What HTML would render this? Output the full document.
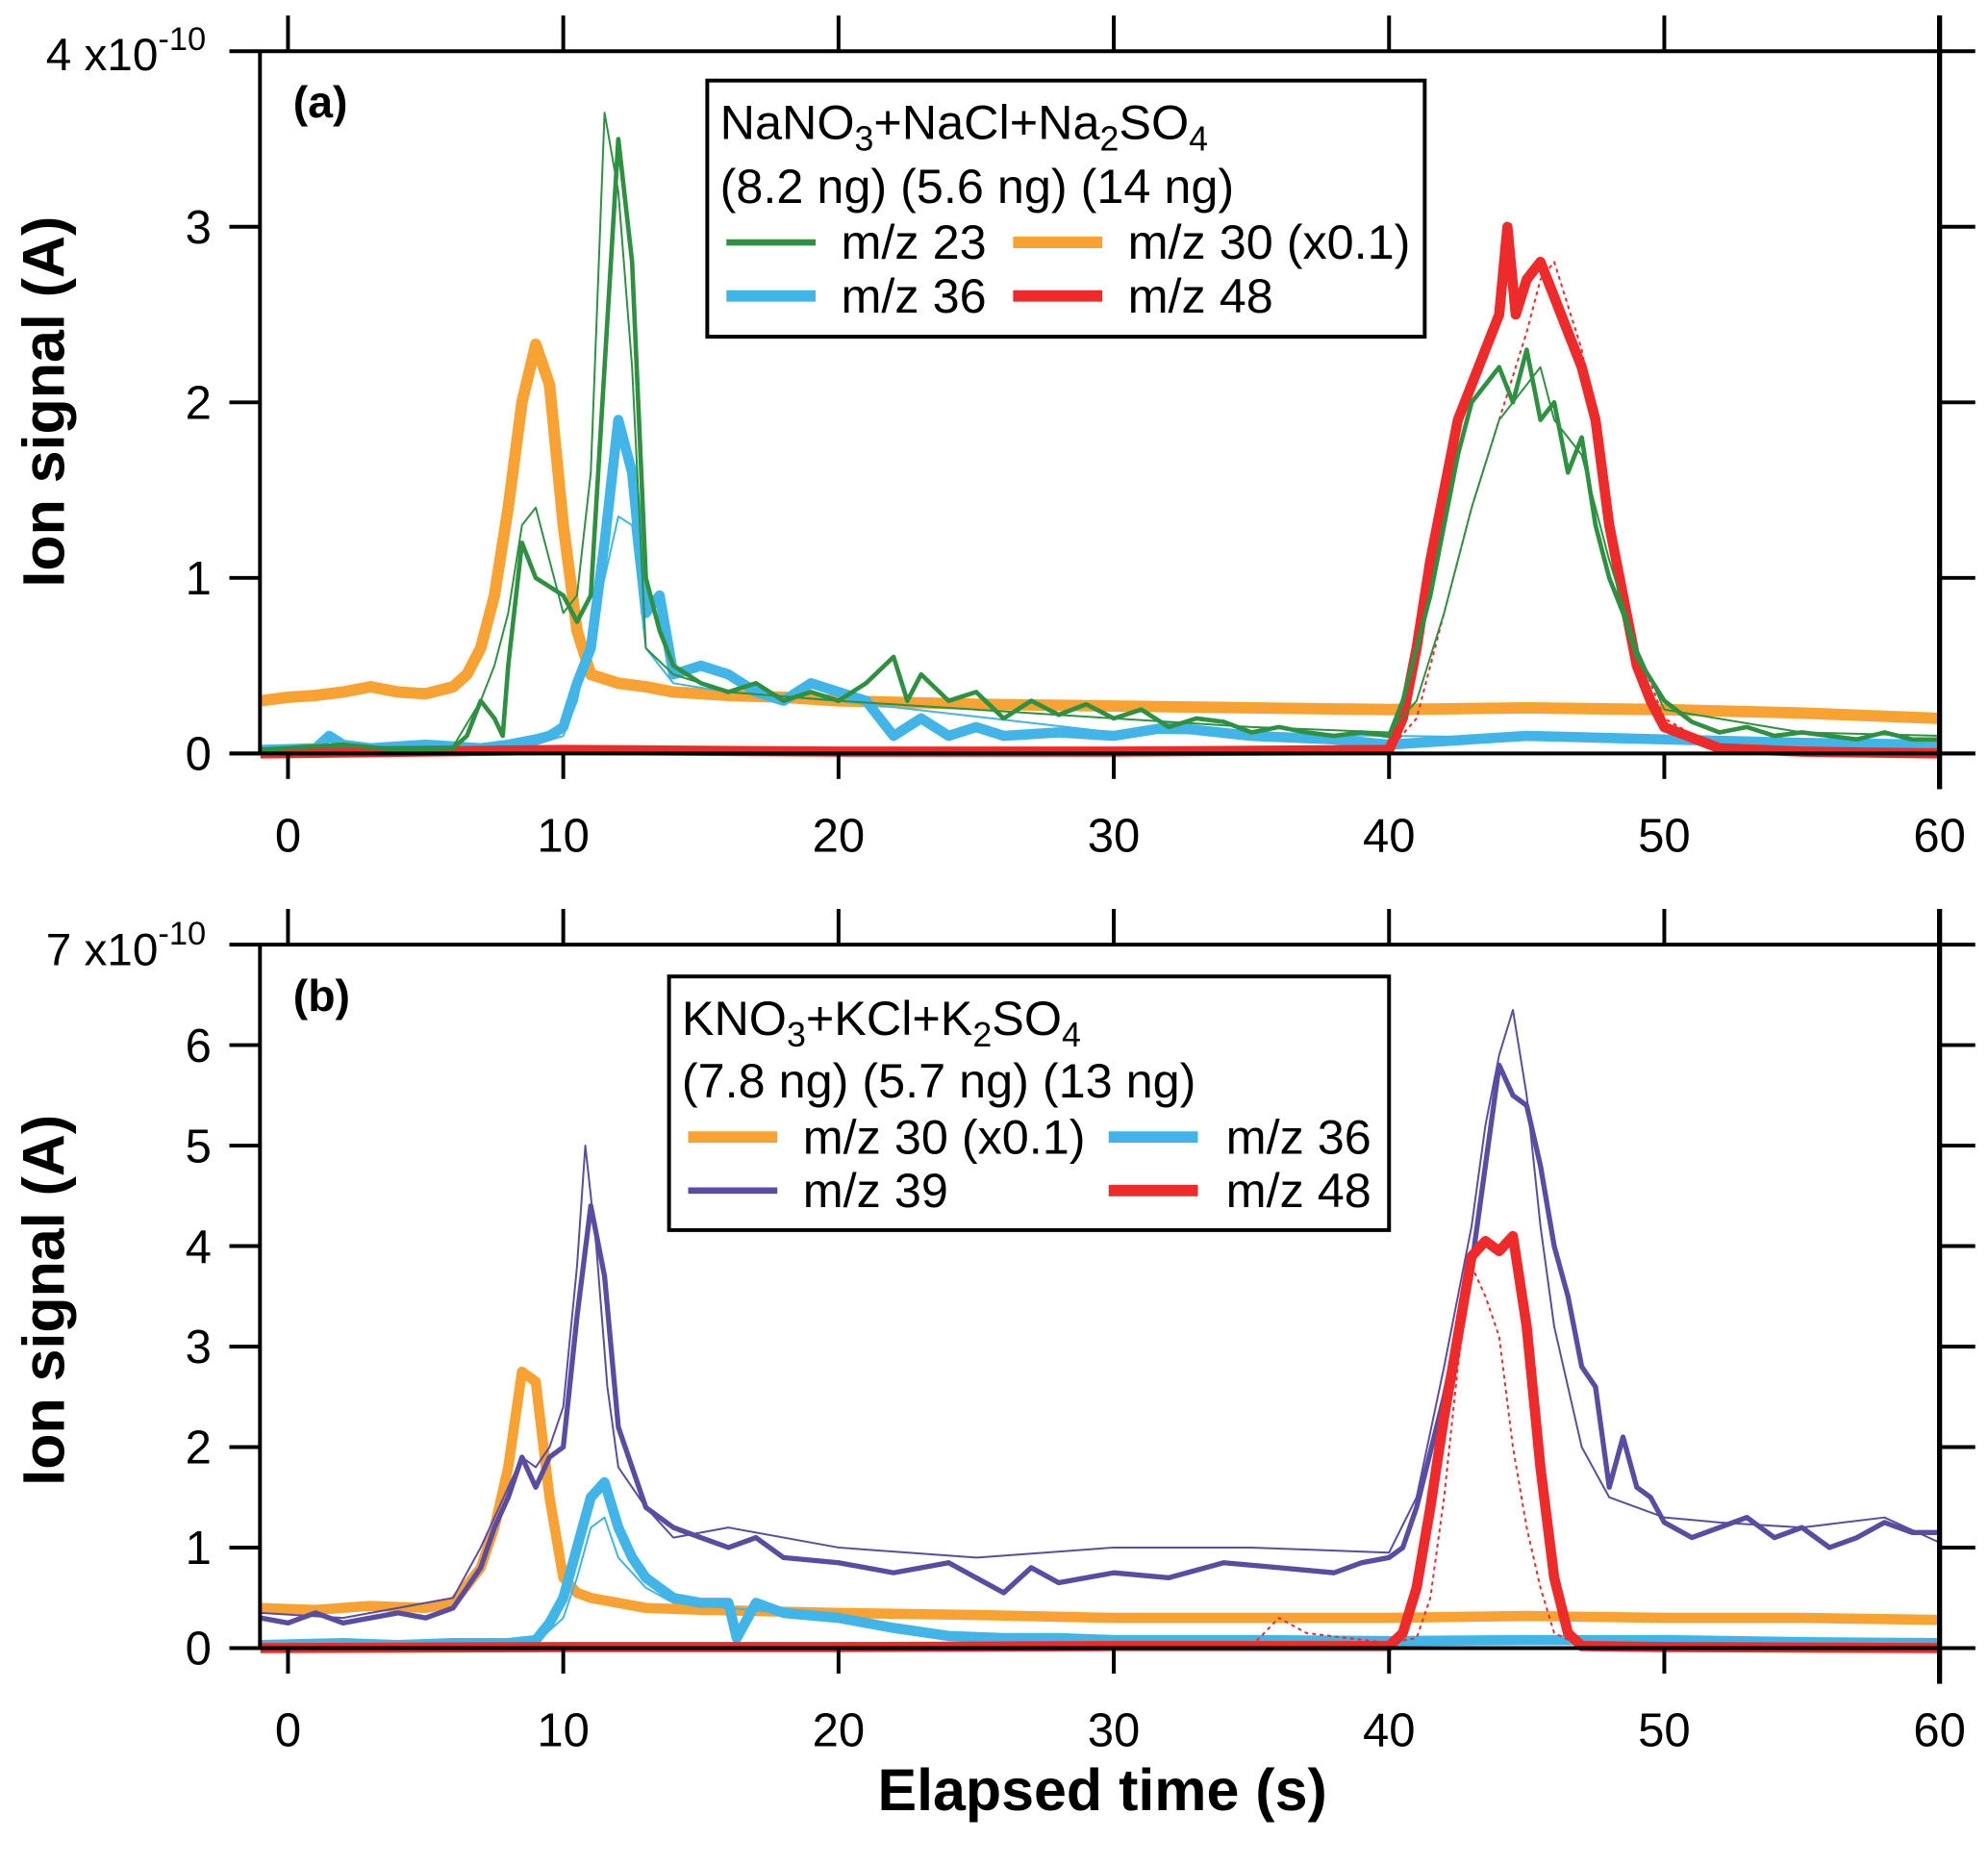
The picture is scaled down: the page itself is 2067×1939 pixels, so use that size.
<!DOCTYPE html>
<html><head><meta charset="utf-8"><style>
html,body{margin:0;padding:0;background:#fff}
svg{display:block}
text{font-family:"Liberation Sans",Arial,sans-serif;fill:#000}
</style></head><body>
<svg id="chart" width="2067" height="1939" viewBox="0 0 1560 1463" xmlns="http://www.w3.org/2000/svg">
<g id="plots"></g>
</svg>
<script>
// ---- Panel (a) data (units 1e-10 A) ----
const aOrangeT=[-1,0,1,2,3,4,5,6,6.5,7,7.5,8,8.5,9,9.5,10,10.5,11,12,13,14,16,18,20,25,30,35,40,45,50,55,60];
const aOrangeV=[0.3,0.32,0.33,0.35,0.38,0.35,0.34,0.38,0.45,0.6,0.9,1.4,2.0,2.33,2.1,1.3,0.7,0.45,0.4,0.38,0.35,0.33,0.32,0.3,0.28,0.27,0.26,0.25,0.26,0.25,0.23,0.2];
const aGreenT=[-1,2,4,6,6.5,7,7.5,7.8,8,8.5,9,9.5,10,10.5,11,11.5,12,12.5,13,13.5,14,15,16,17,18,19,20,21,22,22.5,23,24,25,26,27,28,29,30,31,32,33,34,35,36,37,38,39,40,40.5,41,41.5,42,42.5,43,43.5,44,44.5,45,45.5,46,46.5,47,47.5,48,48.5,49,50,51,52,53,54,55,56,57,58,59,60];
const aGreenV=[0.02,0.05,0.02,0.03,0.1,0.3,0.2,0.1,0.5,1.2,1.0,0.95,0.9,0.75,0.9,2.2,3.5,2.8,1.0,0.7,0.5,0.4,0.35,0.4,0.3,0.35,0.3,0.4,0.55,0.3,0.45,0.3,0.35,0.2,0.3,0.22,0.28,0.2,0.25,0.15,0.2,0.18,0.12,0.15,0.12,0.1,0.12,0.1,0.3,0.6,0.9,1.3,1.7,2.0,2.1,2.2,2.0,2.3,1.9,2.0,1.6,1.8,1.3,1.0,0.8,0.55,0.3,0.18,0.12,0.15,0.1,0.12,0.1,0.08,0.12,0.08,0.08];
const aGreenThinT=[-1,6,7,7.5,8,8.5,9,9.5,10,10.5,11,11.5,12,12.5,13,14,16,20,25,30,35,40,41,42,43,44,45,45.5,46,47,48,49,50,55,60];
const aGreenThinV=[0.03,0.04,0.3,0.5,0.8,1.3,1.4,1.1,0.8,0.9,1.6,3.65,3.2,2.2,0.6,0.45,0.35,0.3,0.25,0.2,0.15,0.12,0.3,0.8,1.4,1.9,2.1,2.2,1.9,1.7,1.1,0.6,0.25,0.12,0.1];
const aBlueT=[-1,1,1.5,2,3,5,7,8,9,9.5,10,10.5,11,11.5,12,12.5,13,13.5,14,15,16,17,18,19,20,21,22,23,24,25,26,28,30,32,35,38,40,45,50,55,60];
const aBlueV=[0.02,0.03,0.1,0.05,0.03,0.05,0.03,0.05,0.08,0.1,0.15,0.4,0.6,1.2,1.9,1.6,0.8,0.9,0.45,0.5,0.45,0.35,0.3,0.4,0.35,0.3,0.1,0.2,0.1,0.15,0.1,0.12,0.1,0.15,0.1,0.08,0.05,0.1,0.08,0.06,0.05];
const aBlueThinT=[-1,9,10,10.5,11,11.5,12,12.5,13,14,16,20,30,40,50,60];
const aBlueThinV=[0.02,0.05,0.1,0.3,0.7,1.0,1.35,1.3,0.6,0.4,0.35,0.3,0.12,0.1,0.08,0.05];
const aRedT=[-1,10,20,30,40,40.5,41,41.5,42,42.5,43,43.5,44,44.3,44.6,45,45.5,46,46.5,47,47.5,48,48.5,49,49.5,50,52,55,60];
const aRedV=[0,0.02,0.01,0.01,0.02,0.2,0.6,1.1,1.5,1.9,2.1,2.3,2.5,3.0,2.5,2.7,2.8,2.6,2.4,2.2,1.9,1.3,0.9,0.5,0.3,0.15,0.03,0.01,0];
const aRedDotT=[40,41,42,43,44,45,45.5,46,47,48,49,50,52];
const aRedDotV=[0.02,0.2,0.8,1.4,1.9,2.4,2.7,2.8,2.3,1.4,0.6,0.2,0.02];

// ---- Panel (b) data ----
const bOrangeT=[-1,1,3,5,6,7,7.5,8,8.5,9,9.5,10,10.5,11,13,15,20,25,30,35,40,45,50,55,60];
const bOrangeV=[0.4,0.38,0.42,0.4,0.45,0.8,1.2,1.8,2.75,2.65,1.5,0.7,0.55,0.5,0.4,0.38,0.35,0.33,0.3,0.3,0.3,0.32,0.3,0.3,0.28];
const bPurpleT=[-1,0,1,2,3,4,5,6,7,7.5,8,8.5,9,9.5,10,10.5,11,11.5,12,12.5,13,14,15,16,17,18,20,22,24,26,27,28,30,32,34,36,38,39,40,40.5,41,42,43,43.5,44,44.5,45,45.5,46,46.5,47,47.5,48,48.5,49,49.5,50,51,52,53,54,55,56,57,58,59,60];
const bPurpleV=[0.3,0.25,0.35,0.25,0.3,0.35,0.3,0.4,0.8,1.2,1.5,1.9,1.6,1.9,2.0,3.3,4.4,3.7,2.2,1.8,1.4,1.2,1.1,1.0,1.1,0.9,0.85,0.75,0.85,0.55,0.8,0.65,0.75,0.7,0.85,0.8,0.75,0.85,0.9,1.0,1.4,2.5,3.8,4.8,5.8,5.5,5.4,4.8,4.0,3.5,2.8,2.6,1.6,2.1,1.6,1.5,1.25,1.1,1.2,1.3,1.1,1.2,1.0,1.1,1.25,1.15,1.15];
const bPurpleThinT=[-1,2,4,6,7,8,8.5,9,9.5,10,10.5,10.8,11.2,11.6,12,13,14,16,20,25,30,35,40,41,42,43,43.5,44,44.5,45,45.5,46,47,48,49,50,52,55,58,60];
const bPurpleThinV=[0.35,0.3,0.4,0.5,1.0,1.6,1.9,1.8,2.0,2.4,3.8,5.0,4.0,2.6,1.8,1.4,1.1,1.2,1.0,0.9,1.0,1.0,0.95,1.5,2.8,4.2,5.2,5.9,6.35,5.5,4.2,3.2,2.0,1.5,1.4,1.3,1.25,1.2,1.3,1.05];
const bBlueT=[-1,2,4,6,8,9,9.5,10,10.5,11,11.5,12,12.5,13,14,15,16,16.3,17,18,20,22,24,26,28,30,35,40,45,50,55,60];
const bBlueV=[0.03,0.05,0.03,0.05,0.05,0.08,0.25,0.5,1.0,1.5,1.65,1.2,0.9,0.7,0.5,0.45,0.45,0.1,0.45,0.35,0.3,0.2,0.12,0.1,0.1,0.08,0.08,0.07,0.08,0.08,0.06,0.05];
const bBlueThinT=[-1,9,10,10.5,11,11.5,12,13,14,16,20,25,30,60];
const bBlueThinV=[0.03,0.05,0.3,0.7,1.2,1.3,0.9,0.6,0.45,0.4,0.3,0.12,0.08,0.05];
const bRedT=[-1,10,20,30,40,40.5,41,41.5,42,42.5,43,43.5,44,44.5,45,45.5,46,46.5,47,50,60];
const bRedV=[0,0.01,0.01,0.02,0.02,0.15,0.6,1.4,2.3,3.1,3.9,4.05,3.95,4.1,3.2,1.8,0.7,0.15,0.02,0.01,0];
const bRedDotT=[35,36,37,40,41,41.5,42,42.5,43,43.5,44,44.5,45,45.5,46,47];
const bRedDotV=[0.02,0.3,0.15,0.05,0.1,0.5,1.5,2.8,3.8,3.5,3.1,2.0,1.2,0.6,0.15,0.02];

const xTicks=[0,10,20,30,40,50,60];
const aYTicks=[0,1,2,3];
const bYTicks=[0,1,2,3,4,5,6];

const NS="http://www.w3.org/2000/svg";
const root=document.getElementById('plots');
function el(tag,attrs,parent){const e=document.createElementNS(NS,tag);for(const k in attrs)e.setAttribute(k,attrs[k]);(parent||root).appendChild(e);return e;}

const X0=226,X60=1522,XL=204;
function xs(t){return X0+(t/60)*(X60-X0);}

function panel(cfg){
  const g=el('g',{});
  
  
  const ys=v=>cfg.y0-(v/cfg.ymax)*(cfg.y0-cfg.ytop);
  cfg.series.forEach(s=>{
    let d='';
    s.t.forEach((t,i)=>{d+=(i?'L':'M')+xs(t).toFixed(1)+','+ys(s.v[i]).toFixed(1);});
    const p=el('path',{d:d,fill:'none',stroke:s.c,'stroke-width':s.w,'stroke-linejoin':'round','stroke-dasharray':s.dash||'none'},g);
    
    
  });
  const ax=el('g',{stroke:'#000','stroke-width':3,fill:'none'},g);
  
  
  el('line',{x1:180,y1:cfg.ytop,x2:1550,y2:cfg.ytop},ax);
  el('line',{x1:180,y1:cfg.y0,x2:1550,y2:cfg.y0},ax);
  el('line',{x1:XL,y1:cfg.ytop,x2:XL,y2:cfg.y0},ax);
  el('line',{x1:X60,y1:cfg.ytop-28,x2:X60,y2:cfg.y0+28,'stroke-width':4},ax);
  xTicks.forEach(t=>{
    el('line',{x1:xs(t),y1:cfg.ytop-28,x2:xs(t),y2:cfg.ytop},ax);
    el('line',{x1:xs(t),y1:cfg.y0,x2:xs(t),y2:cfg.y0+20},ax);
    const tx=el('text',{x:xs(t),y:cfg.y0+77,'font-size':37,'text-anchor':'middle'},g);
    tx.textContent=t;
    
    
  });
  cfg.yticks.forEach(v=>{
    el('line',{x1:180,y1:ys(v),x2:XL,y2:ys(v)},ax);
    el('line',{x1:X60,y1:ys(v),x2:1550,y2:ys(v)},ax);
    const tx=el('text',{x:166,y:ys(v)+13,'font-size':37,'text-anchor':'end'},g);
    tx.textContent=v;
    
    
  });
}

panel({name:'panel-a',y0:591,ytop:40,ymax:4,yticks:aYTicks,series:[
 {n:'a-mz30',t:aOrangeT,v:aOrangeV,c:'#f7a233',w:9},
 {n:'a-mz36',t:aBlueT,v:aBlueV,c:'#41b4e8',w:8},
 {n:'a-mz36-thin',t:aBlueThinT,v:aBlueThinV,c:'#41b4e8',w:1.5},
 {n:'a-mz48',t:aRedT,v:aRedV,c:'#ee2a2a',w:8},
 {n:'a-mz48-dotted',t:aRedDotT,v:aRedDotV,c:'#ee2a2a',w:1.5,dash:'3,3'},
 {n:'a-mz23-thin',t:aGreenThinT,v:aGreenThinV,c:'#2e9141',w:1.5},
 {n:'a-mz23',t:aGreenT,v:aGreenV,c:'#2e9141',w:3.5}
]});
panel({name:'panel-b',y0:1293,ytop:741,ymax:7,yticks:bYTicks,series:[
 {n:'b-mz30',t:bOrangeT,v:bOrangeV,c:'#f7a233',w:8},
 {n:'b-mz39-thin',t:bPurpleThinT,v:bPurpleThinV,c:'#5a4ca3',w:1.5},
 {n:'b-mz39',t:bPurpleT,v:bPurpleV,c:'#5a4ca3',w:4},
 {n:'b-mz36-thin',t:bBlueThinT,v:bBlueThinV,c:'#41b4e8',w:1.5},
 {n:'b-mz36',t:bBlueT,v:bBlueV,c:'#41b4e8',w:8},
 {n:'b-mz48-dotted',t:bRedDotT,v:bRedDotV,c:'#ee2a2a',w:1.5,dash:'3,3'},
 {n:'b-mz48',t:bRedT,v:bRedV,c:'#ee2a2a',w:8}
]});
</script>
<script>
(function(){
const svg=document.getElementById('chart');
svg.insertAdjacentHTML('beforeend',`
<text x="36" y="55" font-size="36">4 x10<tspan dy="-16" font-size="26">-10</tspan></text>
<text x="36" y="757" font-size="36">7 x10<tspan dy="-16" font-size="26">-10</tspan></text>
<text x="230" y="92" font-size="35" font-weight="bold">(a)</text>
<text x="230" y="793" font-size="35" font-weight="bold">(b)</text>
<text transform="translate(50,315) rotate(-90)" font-size="46" font-weight="bold" text-anchor="middle">Ion signal (A)</text>
<text transform="translate(50,1020) rotate(-90)" font-size="46" font-weight="bold" text-anchor="middle">Ion signal (A)</text>
<text x="865" y="1420" font-size="46" font-weight="bold" text-anchor="middle">Elapsed time (s)</text>
<g>
<rect x="555" y="63" width="563" height="201" fill="#fff" stroke="#000" stroke-width="3"/>
<text x="565" y="109" font-size="38">NaNO<tspan dy="9" font-size="27">3</tspan><tspan dy="-9">+NaCl+Na</tspan><tspan dy="9" font-size="27">2</tspan><tspan dy="-9">SO</tspan><tspan dy="9" font-size="27">4</tspan></text>
<text x="565" y="159" font-size="38">(8.2 ng) (5.6 ng) (14 ng)</text>
<line x1="570" y1="190" x2="640" y2="190" stroke="#2e9141" stroke-width="5"/>
<text x="660" y="203" font-size="38">m/z 23</text>
<line x1="795" y1="190" x2="865" y2="190" stroke="#f7a233" stroke-width="9"/>
<text x="885" y="203" font-size="38">m/z 30 (x0.1)</text>
<line x1="570" y1="232" x2="640" y2="232" stroke="#41b4e8" stroke-width="9"/>
<text x="660" y="245" font-size="38">m/z 36</text>
<line x1="795" y1="232" x2="865" y2="232" stroke="#ee2a2a" stroke-width="9"/>
<text x="885" y="245" font-size="38">m/z 48</text>
</g>
<g>
<rect x="525" y="766" width="565" height="199" fill="#fff" stroke="#000" stroke-width="3"/>
<text x="535" y="812" font-size="38">KNO<tspan dy="9" font-size="27">3</tspan><tspan dy="-9">+KCl+K</tspan><tspan dy="9" font-size="27">2</tspan><tspan dy="-9">SO</tspan><tspan dy="9" font-size="27">4</tspan></text>
<text x="535" y="861" font-size="38">(7.8 ng) (5.7 ng) (13 ng)</text>
<line x1="540" y1="892" x2="610" y2="892" stroke="#f7a233" stroke-width="9"/>
<text x="630" y="905" font-size="38">m/z 30 (x0.1)</text>
<line x1="870" y1="892" x2="940" y2="892" stroke="#41b4e8" stroke-width="9"/>
<text x="962" y="905" font-size="38">m/z 36</text>
<line x1="540" y1="934" x2="610" y2="934" stroke="#5a4ca3" stroke-width="5"/>
<text x="630" y="947" font-size="38">m/z 39</text>
<line x1="870" y1="934" x2="940" y2="934" stroke="#ee2a2a" stroke-width="9"/>
<text x="962" y="947" font-size="38">m/z 48</text>
</g>`);
})();
</script>
</body></html>
